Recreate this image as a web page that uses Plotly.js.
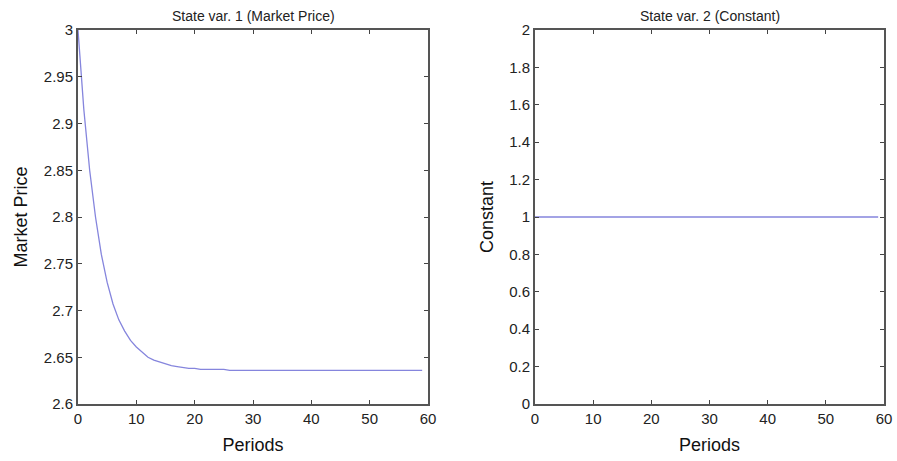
<!DOCTYPE html>
<html>
<head>
<meta charset="utf-8">
<script src="https://cdn.plot.ly/plotly-3.0.1.min.js"></script>
<style>html,body{margin:0;padding:0;background:#fff;}#chart{width:897px;height:461px;}</style>
</head>
<body>
<div id="chart"></div>
<script>
const periods = Array.from({length: 60}, (_, i) => i);
const marketPrice = [
  3.000, 2.915, 2.850, 2.800, 2.760, 2.730, 2.707, 2.690, 2.678, 2.668,
  2.661, 2.655, 2.650, 2.647, 2.645, 2.643, 2.641, 2.640, 2.639, 2.638,
  2.638, 2.637, 2.637, 2.637, 2.637, 2.637, 2.636, 2.636, 2.636, 2.636,
  2.636, 2.636, 2.636, 2.636, 2.636, 2.636, 2.636, 2.636, 2.636, 2.636,
  2.636, 2.636, 2.636, 2.636, 2.636, 2.636, 2.636, 2.636, 2.636, 2.636,
  2.636, 2.636, 2.636, 2.636, 2.636, 2.636, 2.636, 2.636, 2.636, 2.636
];
const constant = periods.map(() => 1);
const xTicks = [0, 10, 20, 30, 40, 50, 60];
const yTicks1 = [2.6, 2.65, 2.7, 2.75, 2.8, 2.85, 2.9, 2.95, 3];
const yTickText1 = ['2.6', '2.65', '2.7', '2.75', '2.8', '2.85', '2.9', '2.95', '3'];
const yTicks2 = [0, 0.2, 0.4, 0.6, 0.8, 1, 1.2, 1.4, 1.6, 1.8, 2];
const yTickText2 = ['0', '0.2', '0.4', '0.6', '0.8', '1', '1.2', '1.4', '1.6', '1.8', '2'];

const lineColor = '#8585dd';
const font = {family: 'Liberation Sans, Arial, sans-serif', color: '#1a1a1a'};

const traces = [
  {x: periods, y: marketPrice, type: 'scatter', mode: 'lines', line: {color: lineColor, width: 1.3}, xaxis: 'x', yaxis: 'y', hoverinfo: 'none'},
  {x: periods, y: constant, type: 'scatter', mode: 'lines', line: {color: lineColor, width: 1.3}, xaxis: 'x2', yaxis: 'y2', hoverinfo: 'none'}
];

function xAxis(domain, anchor) {
  return {
    domain: domain, anchor: anchor, range: [0, 60], tickvals: xTicks, ticktext: xTicks.map(String),
    ticks: 'inside', ticklen: 4, tickwidth: 1, tickcolor: '#444', mirror: 'ticks',
    showline: true, linecolor: '#555', linewidth: 2, showgrid: false, zeroline: false,
    tickfont: {size: 15, family: font.family, color: '#222'},
    title: {text: 'Periods', font: {size: 18, family: font.family, color: '#111'}, standoff: 12}
  };
}
function yAxis(domain, anchor, range, vals, text, title) {
  return {
    domain: domain, anchor: anchor, range: range, tickvals: vals, ticktext: text,
    ticks: 'inside', ticklen: 4, tickwidth: 1, tickcolor: '#444', mirror: 'ticks',
    showline: true, linecolor: '#555', linewidth: 2, showgrid: false, zeroline: false,
    tickfont: {size: 15, family: font.family, color: '#222'},
    title: {text: title, font: {size: 18, family: font.family, color: '#111'}, standoff: 11}
  };
}

const yDom = [1 - 404 / 461, 1 - 30 / 461];
const layout = {
  width: 897, height: 461,
  margin: {l: 0, r: 0, t: 0, b: 0},
  paper_bgcolor: '#fff', plot_bgcolor: '#fff',
  showlegend: false,
  font: font,
  xaxis: xAxis([78 / 897, 428 / 897], 'y'),
  yaxis: yAxis(yDom, 'x', [2.6, 3], yTicks1, yTickText1, 'Market Price'),
  xaxis2: xAxis([535 / 897, 884 / 897], 'y2'),
  yaxis2: yAxis(yDom, 'x2', [0, 2], yTicks2, yTickText2, 'Constant'),
  annotations: [
    {text: 'State var. 1 (Market Price)', xref: 'paper', yref: 'paper', x: (78 + 428) / 2 / 897, xanchor: 'center', y: 1 - 16 / 461, yanchor: 'middle', showarrow: false, font: {size: 14, family: font.family, color: '#222'}},
    {text: 'State var. 2 (Constant)', xref: 'paper', yref: 'paper', x: (535 + 884) / 2 / 897, xanchor: 'center', y: 1 - 16 / 461, yanchor: 'middle', showarrow: false, font: {size: 14, family: font.family, color: '#222'}}
  ]
};

Plotly.newPlot('chart', traces, layout, {staticPlot: true, displayModeBar: false});
</script>
</body>
</html>
